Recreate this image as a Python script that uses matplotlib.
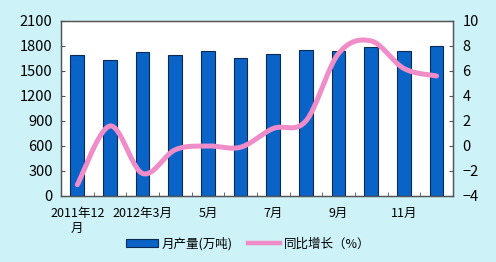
import numpy as np
import matplotlib
matplotlib.use("Agg")
import matplotlib.pyplot as plt
from matplotlib.lines import Line2D
from matplotlib.patches import Patch

plt.rcParams['font.family'] = ['Noto Sans CJK SC', 'DejaVu Sans']

categories = ["2011年12\n月", "2月", "2012年3月", "4月", "5月", "6月", "7月", "8月", "9月", "10月", "11月", "12月"]
output = [1697, 1632, 1724, 1688, 1740, 1652, 1708, 1748, 1740, 1784, 1740, 1796]
growth = [-3.1, 1.6, -2.2, -0.3, 0.0, -0.1, 1.4, 2.0, 7.4, 8.4, 6.2, 5.6]
shown_labels = {0, 2, 4, 6, 8, 10}

def catmull_rom(x, y, n=30):
    x = np.asarray(x, float); y = np.asarray(y, float)
    px = np.concatenate([[x[0]], x, [x[-1]]])
    py = np.concatenate([[y[0]], y, [y[-1]]])
    xs, ys = [], []
    for i in range(1, len(px) - 2):
        t = np.linspace(0, 1, n, endpoint=False)
        for arr, out in ((px, xs), (py, ys)):
            p0, p1, p2, p3 = arr[i-1], arr[i], arr[i+1], arr[i+2]
            out.append(0.5 * ((2*p1) + (-p0 + p2)*t + (2*p0 - 5*p1 + 4*p2 - p3)*t**2 + (-p0 + 3*p1 - 3*p2 + p3)*t**3))
    xs.append([x[-1]]); ys.append([y[-1]])
    return np.concatenate(xs), np.concatenate(ys)

fig = plt.figure(figsize=(4.96, 2.62), dpi=100)
fig.patch.set_facecolor('#cdf3f8')
ax = fig.add_axes([0.123, 0.252, 0.790, 0.668])
ax.set_facecolor('white')

x = np.arange(len(categories))
ax.bar(x, output, width=0.42, color='#0a64c8', edgecolor='#0d2a55', linewidth=0.8, zorder=2)
ax.set_xlim(-0.5, len(categories) - 0.5)
ax.set_ylim(0, 2100)
ax.set_yticks(np.arange(0, 2101, 300))
ax.tick_params(axis='y', direction='in', length=3, labelsize=10.5, pad=6, color='#555555')
ax.set_xticks(x)
ax.set_xticklabels([c if i in shown_labels else "" for i, c in enumerate(categories)], fontsize=9, linespacing=1.2)
ax.tick_params(axis='x', length=0, pad=8)
ax.set_xticks(np.arange(-0.5, len(categories), 1), minor=True)
ax.tick_params(axis='x', which='minor', direction='in', length=3, color='#555555')
for s in ax.spines.values():
    s.set_color('#555555'); s.set_linewidth(0.9)

ax2 = ax.twinx()
sx, sy = catmull_rom(x, growth)
ax2.plot(sx, sy, color='#f08cc8', linewidth=3.6, solid_capstyle='round', zorder=3)
ax2.set_ylim(-4, 10)
ax2.set_yticks(np.arange(-4, 11, 2))
ax2.tick_params(axis='y', direction='in', length=3, labelsize=10.5, pad=7, color='#555555')
for s in ax2.spines.values():
    s.set_color('#555555'); s.set_linewidth(0.9)

handles = [Patch(facecolor='#0a64c8', edgecolor='#0d2a55', linewidth=0.8),
           Line2D([0], [0], color='#f08cc8', linewidth=3.2)]
fig.legend(handles, ["月产量(万吨)", "同比增长（%）"], loc='center', bbox_to_anchor=(0.5, 0.07),
           ncol=2, frameon=False, fontsize=9, handlelength=2.6, handleheight=0.5,
           columnspacing=1.2, handletextpad=0.3)

fig.savefig('out.png', dpi=100, facecolor=fig.get_facecolor())
